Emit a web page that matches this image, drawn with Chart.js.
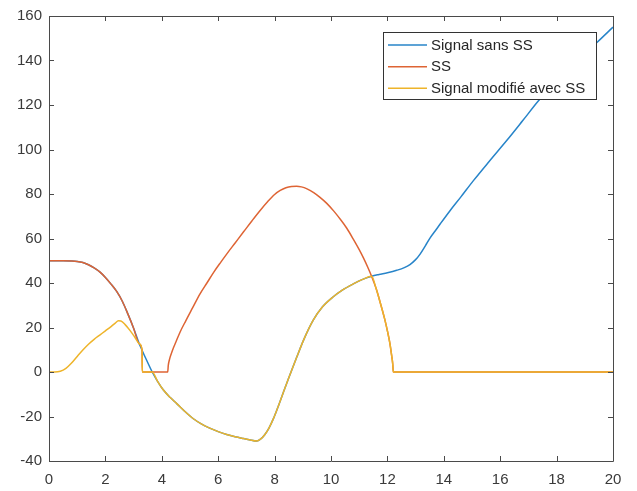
<!DOCTYPE html>
<html><head><meta charset="utf-8">
<script src="https://cdn.jsdelivr.net/npm/chart.js@4"></script>
<style>html,body{margin:0;padding:0;background:#fff;overflow:hidden}</style>
</head><body>
<canvas id="c" width="637" height="491"></canvas>
<script>
const seriesLabels = ['Signal sans SS', 'SS', 'Signal modifié avec SS'];
const seriesColors = ['#2784c9', '#de6434', '#eeb42a'];
const xTicks = [0, 2, 4, 6, 8, 10, 12, 14, 16, 18, 20];
const yTicks = [-40, -20, 0, 20, 40, 60, 80, 100, 120, 140, 160];

const blueX = [0, 0.5, 0.8, 1.0, 1.2, 1.4, 1.6, 1.8, 2.0, 2.2, 2.4, 2.6, 2.8, 3.0, 3.2, 3.3, 3.45, 3.66, 3.85, 4.05, 4.3, 4.53, 4.8, 5.12, 5.4, 5.7, 6.0, 6.3, 6.6, 6.9, 7.1, 7.37, 7.5, 7.65, 7.8, 7.95, 8.1, 8.3, 8.5, 8.78, 9.05, 9.37, 9.7, 10.08, 10.4, 10.79, 11.1, 11.44, 11.7, 12.0, 12.33, 12.6, 12.8, 13.0, 13.16, 13.35, 13.51, 13.7, 13.87, 14.22, 14.6, 15.05, 15.6, 16.23, 16.8, 17.35, 17.9, 18.4, 18.9, 19.42, 20];
const blueY = [50, 50, 49.9, 49.7, 49.2, 48.2, 46.8, 45, 42.5, 39.5, 36.2, 31.8, 26, 19.7, 12.7, 9.8, 5.6, 0, -4.2, -8, -11.5, -14.2, -17.5, -21, -23.3, -25.2, -26.8, -28.1, -29.1, -29.9, -30.4, -31, -30.2, -28.2, -25.2, -21.2, -16.4, -9.5, -2.7, 6.5, 15, 23.3, 29.3, 33.8, 36.8, 39.6, 41.5, 43, 43.8, 44.6, 45.7, 46.9, 48.3, 50.5, 53, 56.8, 60.2, 63.5, 66.5, 72.5, 78.6, 86, 94.5, 104, 113, 121.8, 129.5, 136, 142, 148, 155];

const orangeX = [0, 0.5, 0.8, 1.0, 1.2, 1.4, 1.6, 1.8, 2.0, 2.2, 2.4, 2.6, 2.8, 3.0, 3.2, 3.3, 3.31, 4.21, 4.23, 4.27, 4.33, 4.41, 4.5, 4.65, 4.85, 5.1, 5.35, 5.6, 5.85, 6.1, 6.3, 6.6, 6.9, 7.2, 7.48, 7.75, 8.0, 8.2, 8.4, 8.6, 8.78, 8.95, 9.15, 9.4, 9.61, 9.85, 10.1, 10.35, 10.56, 10.8, 11.0, 11.15, 11.3, 11.44, 11.6, 11.75, 11.9, 12.0, 12.09, 12.15, 12.19, 12.21, 20];
const orangeY = [50, 50, 49.9, 49.7, 49.2, 48.2, 46.8, 45, 42.5, 39.5, 36.2, 31.8, 26, 19.7, 12.7, 9.8, 0, 0, 3, 5.5, 8, 10.8, 13.5, 18, 23, 29, 35, 40, 45, 49.5, 53, 58, 63, 68, 72.5, 76.5, 79.8, 81.6, 82.8, 83.4, 83.5, 83.2, 82.3, 80.5, 78.5, 75.8, 72.3, 68.3, 64.6, 59.5, 55, 51.3, 47.2, 43, 37.5, 31, 24, 18.5, 12.8, 7.5, 3.5, 0, 0];

const yellowX = [0, 0.2, 0.4, 0.6, 0.8, 1.0, 1.2, 1.4, 1.6, 1.8, 2.0, 2.2, 2.35, 2.46, 2.55, 2.7, 2.87, 3.05, 3.2, 3.3, 3.31, 3.66, 3.85, 4.05, 4.3, 4.53, 4.8, 5.12, 5.4, 5.7, 6.0, 6.3, 6.6, 6.9, 7.1, 7.37, 7.5, 7.65, 7.8, 7.95, 8.1, 8.3, 8.5, 8.78, 9.05, 9.37, 9.7, 10.08, 10.4, 10.79, 11.1, 11.44, 11.6, 11.75, 11.9, 12.0, 12.09, 12.15, 12.19, 12.21, 20];
const yellowY = [0, 0, 0.3, 1.6, 4, 7, 9.9, 12.5, 14.7, 16.6, 18.5, 20.4, 22, 23, 22.9, 21.3, 18.7, 15.5, 12.7, 9.8, 0, 0, -4.2, -8, -11.5, -14.2, -17.5, -21, -23.3, -25.2, -26.8, -28.1, -29.1, -29.9, -30.4, -31, -30.2, -28.2, -25.2, -21.2, -16.4, -9.5, -2.7, 6.5, 15, 23.3, 29.3, 33.8, 36.8, 39.6, 41.5, 43, 37.5, 31, 24, 18.5, 12.8, 7.5, 3.5, 0, 0];

const FONT = 'Liberation Sans, Arial, Helvetica, sans-serif';
const toPts = (xs, ys) => xs.map((x, i) => ({ x: x, y: ys[i] }));

const boxPlugin = {
  id: 'matlabBox',
  afterDraw(chart) {
    const ctx = chart.ctx;
    const a = chart.chartArea;
    const sx = chart.scales.x, sy = chart.scales.y;
    const tl = 5;
    ctx.save();
    ctx.strokeStyle = '#4a4a4a';
    ctx.lineWidth = 1;
    ctx.beginPath();
    ctx.rect(Math.round(a.left) + 0.5, Math.round(a.top) + 0.5, Math.round(a.right - a.left), Math.round(a.bottom - a.top));
    ctx.stroke();
    ctx.beginPath();
    xTicks.forEach(v => {
      const px = Math.round(sx.getPixelForValue(v)) + 0.5;
      ctx.moveTo(px, a.bottom); ctx.lineTo(px, a.bottom - tl);
      ctx.moveTo(px, a.top); ctx.lineTo(px, a.top + tl);
    });
    yTicks.forEach(v => {
      const py = Math.round(sy.getPixelForValue(v)) + 0.5;
      ctx.moveTo(a.left, py); ctx.lineTo(a.left + tl, py);
      ctx.moveTo(a.right, py); ctx.lineTo(a.right - tl, py);
    });
    ctx.stroke();

    // legend box (inside the axes, upper right)
    const lx = 383.5, ly = 32.5, lw = 213, lh = 67;
    ctx.fillStyle = '#ffffff';
    ctx.fillRect(lx, ly, lw, lh);
    ctx.strokeStyle = '#333333';
    ctx.strokeRect(lx, ly, lw, lh);
    const rows = [45, 66.7, 88.3];
    ctx.font = '15px ' + FONT;
    ctx.textBaseline = 'middle';
    ctx.textAlign = 'left';
    chart.data.datasets.forEach((ds, i) => {
      ctx.strokeStyle = ds.borderColor;
      ctx.lineWidth = 1.5;
      ctx.beginPath();
      ctx.moveTo(388, rows[i]); ctx.lineTo(427, rows[i]);
      ctx.stroke();
      ctx.fillStyle = '#262626';
      ctx.fillText(ds.label, 431, rows[i] + 0.5);
    });
    ctx.restore();
  }
};

new Chart(document.getElementById('c'), {
  type: 'line',
  data: {
    datasets: [
      { label: seriesLabels[0], data: toPts(blueX, blueY), borderColor: seriesColors[0], order: 3 },
      { label: seriesLabels[1], data: toPts(orangeX, orangeY), borderColor: seriesColors[1], order: 2 },
      { label: seriesLabels[2], data: toPts(yellowX, yellowY), borderColor: seriesColors[2], order: 1 }
    ]
  },
  options: {
    responsive: false,
    animation: false,
    devicePixelRatio: 1,
    parsing: false,
    elements: {
      point: { radius: 0, hoverRadius: 0 },
      line: { borderWidth: 1.5, cubicInterpolationMode: 'monotone', fill: false }
    },
    layout: { padding: { top: 14, right: 24, left: 0, bottom: 0 } },
    plugins: { legend: { display: false }, tooltip: { enabled: false } },
    scales: {
      x: {
        type: 'linear', min: 0, max: 20,
        afterBuildTicks: s => { s.ticks = xTicks.map(v => ({ value: v })); },
        afterFit: s => { s.height = 30; },
        ticks: { font: { family: FONT, size: 15 }, color: '#3a3a3a', padding: 10, maxRotation: 0, autoSkip: false },
        grid: { display: false, drawTicks: false },
        border: { display: false }
      },
      y: {
        type: 'linear', min: -40, max: 160,
        afterBuildTicks: s => { s.ticks = yTicks.map(v => ({ value: v })); },
        afterFit: s => { s.width = 49; },
        ticks: { font: { family: FONT, size: 15 }, color: '#3a3a3a', padding: 7, autoSkip: false },
        grid: { display: false, drawTicks: false },
        border: { display: false }
      }
    }
  },
  plugins: [boxPlugin]
});
</script>
</body></html>
